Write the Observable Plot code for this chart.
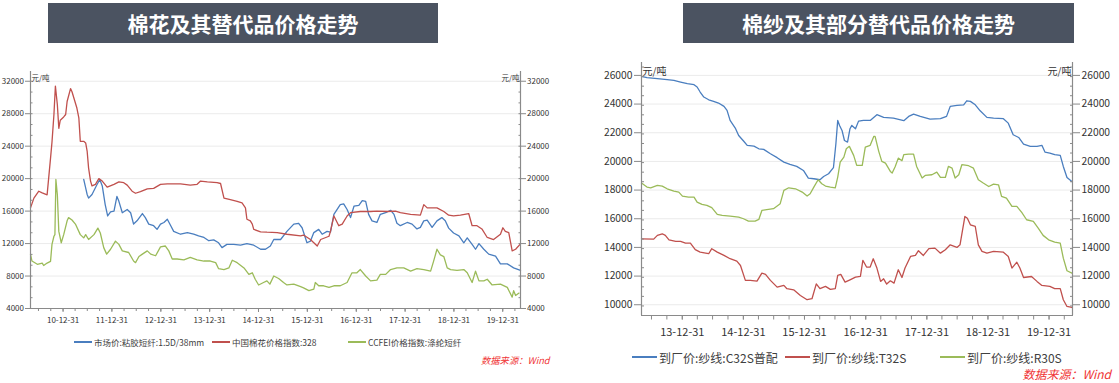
<!DOCTYPE html>
<html><head><meta charset="utf-8">
<script src="https://cdn.jsdelivr.net/npm/d3@7"></script>
<script src="https://cdn.jsdelivr.net/npm/@observablehq/plot@0.6"></script>
<style>
body{margin:0;background:#fff;}
#root{position:relative;width:1119px;height:383px;overflow:hidden;font-family:"Noto Sans CJK SC","Noto Sans",sans-serif;}
.banner{position:absolute;background:#4b5361;color:#fff;font-weight:bold;font-size:21px;display:flex;align-items:center;justify-content:center;letter-spacing:0px;}
.chart{position:absolute;}
.legend{position:absolute;color:#404040;white-space:nowrap;}
.legend .item{position:absolute;display:flex;align-items:center;}
.legend .sw{display:inline-block;height:1.6px;}
.caption{position:absolute;color:#f03535;font-style:italic;white-space:nowrap;line-height:1;padding-right:2px;}
</style></head>
<body><div id="root"></div>
<script>
// ---------- data ----------
const leftTitle = "棉花及其替代品价格走势";
const rightTitle = "棉纱及其部分替代品价格走势";
const leftNames = ["市场价:粘胶短纤:1.5D/38mm", "中国棉花价格指数:328", "CCFEI价格指数:涤纶短纤"];
const rightNames = ["到厂价:纱线:C32S普配", "到厂价:纱线:T32S", "到厂价:纱线:R30S"];
const unitLabel = "元/吨";
const sourceText = "数据来源：Wind";
const leftXTicks = ["10-12-31","11-12-31","12-12-31","13-12-31","14-12-31","15-12-31","16-12-31","17-12-31","18-12-31","19-12-31"];
const rightXTicks = ["13-12-31","14-12-31","15-12-31","16-12-31","17-12-31","18-12-31","19-12-31"];
const leftYTicks = [4000, 8000, 12000, 16000, 20000, 24000, 28000, 32000];
const rightYTicks = [10000, 12000, 14000, 16000, 18000, 20000, 22000, 24000, 26000];

// [decimal year, 元/吨]
const viscose = [[2011.42,19900],[2011.49,18050],[2011.52,17600],[2011.59,18050],[2011.69,19250],[2011.75,19900],[2011.80,19100],[2011.86,16800],[2011.91,15400],[2011.97,15900],[2012.04,16000],[2012.10,17800],[2012.14,17200],[2012.21,15800],[2012.31,16200],[2012.38,15800],[2012.44,14400],[2012.51,14800],[2012.62,15700],[2012.68,15200],[2012.75,14400],[2012.85,14200],[2012.92,13750],[2012.99,14400],[2013.06,14600],[2013.13,15000],[2013.20,14200],[2013.26,13500],[2013.40,13150],[2013.54,13350],[2013.67,13150],[2013.77,12950],[2013.88,12750],[2013.98,12350],[2014.08,12450],[2014.18,12100],[2014.25,11500],[2014.35,11900],[2014.49,11900],[2014.63,11800],[2014.76,12000],[2014.90,11800],[2015.04,11300],[2015.14,11300],[2015.24,11700],[2015.31,12500],[2015.45,12500],[2015.58,13500],[2015.72,14400],[2015.82,14500],[2015.89,13950],[2015.99,12100],[2016.06,12300],[2016.13,13350],[2016.23,13750],[2016.30,13150],[2016.40,13500],[2016.47,13400],[2016.54,15600],[2016.67,16800],[2016.74,16900],[2016.81,16200],[2016.88,15200],[2016.95,16600],[2017.05,16700],[2017.12,17300],[2017.19,17200],[2017.25,15600],[2017.32,14800],[2017.42,14600],[2017.49,15600],[2017.60,15800],[2017.70,16100],[2017.77,15600],[2017.83,14500],[2017.90,14200],[2018.04,14600],[2018.14,14400],[2018.24,13800],[2018.31,14000],[2018.38,14800],[2018.45,14900],[2018.55,14000],[2018.65,14800],[2018.75,15200],[2018.82,14800],[2018.89,13900],[2018.99,13300],[2019.10,12950],[2019.20,12100],[2019.27,12700],[2019.37,11900],[2019.44,11300],[2019.51,12000],[2019.61,11300],[2019.71,10700],[2019.85,10450],[2019.95,9500],[2020.09,9500],[2020.22,9000],[2020.36,8700]];
const cotton328 = [[2010.33,16400],[2010.40,17600],[2010.50,18450],[2010.57,18250],[2010.67,18000],[2010.74,22500],[2010.77,24500],[2010.81,27900],[2010.84,31400],[2010.88,29100],[2010.91,26200],[2010.94,27200],[2011.01,27600],[2011.05,27900],[2011.08,29500],[2011.15,31100],[2011.18,30700],[2011.22,29900],[2011.28,28700],[2011.32,27500],[2011.35,24600],[2011.42,24600],[2011.46,24400],[2011.49,23400],[2011.52,21300],[2011.56,19700],[2011.59,19100],[2011.66,19300],[2011.73,20000],[2011.80,19700],[2011.90,18950],[2012.04,19300],[2012.14,19600],[2012.24,19500],[2012.31,19200],[2012.41,18450],[2012.48,18200],[2012.58,18400],[2012.72,18750],[2012.85,18800],[2012.99,19300],[2013.13,19350],[2013.40,19350],[2013.60,19200],[2013.74,19300],[2013.81,19700],[2013.95,19600],[2014.15,19500],[2014.22,19400],[2014.29,17600],[2014.42,17400],[2014.56,17200],[2014.66,17000],[2014.73,16400],[2014.76,15000],[2014.83,14800],[2014.87,14400],[2014.90,13750],[2015.04,13450],[2015.17,13400],[2015.38,13350],[2015.58,13150],[2015.86,12950],[2015.92,13050],[2016.06,12500],[2016.20,11700],[2016.27,12500],[2016.44,12900],[2016.47,13500],[2016.54,15400],[2016.64,14200],[2016.71,14400],[2016.81,15400],[2016.88,15800],[2017.08,15950],[2017.29,15950],[2017.42,16000],[2017.63,15950],[2017.80,16000],[2017.90,15800],[2018.11,15600],[2018.31,15500],[2018.38,16800],[2018.45,16400],[2018.65,16400],[2018.79,15950],[2018.89,15500],[2018.99,15400],[2019.13,15500],[2019.30,15700],[2019.37,14200],[2019.47,14200],[2019.57,13800],[2019.68,12750],[2019.81,12500],[2019.95,13150],[2020.00,13950],[2020.05,13500],[2020.12,13350],[2020.19,11100],[2020.26,11300],[2020.35,11900]];
const polyester = [[2010.33,10700],[2010.36,9850],[2010.47,9450],[2010.57,9600],[2010.60,9300],[2010.67,9600],[2010.74,9800],[2010.77,11900],[2010.81,12900],[2010.83,13100],[2010.85,19900],[2010.88,18000],[2010.91,13500],[2010.96,12100],[2011.01,13100],[2011.08,14800],[2011.11,15200],[2011.18,14900],[2011.25,14400],[2011.35,13100],[2011.42,12700],[2011.46,13100],[2011.52,12500],[2011.63,13100],[2011.71,13900],[2011.76,13300],[2011.83,11500],[2011.89,10700],[2011.97,11300],[2012.07,12300],[2012.14,11900],[2012.21,11100],[2012.34,10900],[2012.44,9850],[2012.48,9650],[2012.55,10400],[2012.62,10700],[2012.72,11100],[2012.79,10700],[2012.89,10500],[2012.99,11600],[2013.09,11700],[2013.16,11100],[2013.23,10100],[2013.33,10100],[2013.47,10000],[2013.60,10300],[2013.74,10000],[2013.88,9850],[2014.01,9850],[2014.12,9650],[2014.18,8900],[2014.29,8800],[2014.39,9000],[2014.46,9950],[2014.56,9650],[2014.70,9000],[2014.80,8200],[2014.87,8400],[2014.93,7600],[2015.00,6900],[2015.10,7200],[2015.17,7400],[2015.23,7000],[2015.31,8000],[2015.41,7700],[2015.51,7200],[2015.58,6900],[2015.72,7000],[2015.86,6700],[2015.92,6550],[2016.03,6200],[2016.13,6400],[2016.16,7200],[2016.23,6800],[2016.33,6800],[2016.44,6600],[2016.54,6800],[2016.67,6800],[2016.81,7200],[2016.91,8400],[2017.01,8400],[2017.08,8800],[2017.19,8000],[2017.29,7400],[2017.42,7500],[2017.49,8200],[2017.60,8200],[2017.70,8800],[2017.83,9000],[2017.97,9000],[2018.11,8600],[2018.24,8900],[2018.38,8800],[2018.52,8600],[2018.58,9800],[2018.65,11300],[2018.72,10600],[2018.79,10400],[2018.86,9000],[2018.93,8800],[2019.06,8700],[2019.20,8800],[2019.27,8400],[2019.37,7200],[2019.44,8600],[2019.51,7400],[2019.61,7400],[2019.68,7600],[2019.78,6900],[2019.95,7000],[2020.09,6600],[2020.19,5400],[2020.22,6200],[2020.26,5600],[2020.33,5900]];

const yarnC32S = [[2013.33,25930],[2013.42,25840],[2013.59,25770],[2013.75,25700],[2013.86,25650],[2013.97,25530],[2014.08,25420],[2014.19,25350],[2014.24,25190],[2014.29,24840],[2014.35,24490],[2014.43,24300],[2014.51,24190],[2014.59,24070],[2014.68,23840],[2014.73,23560],[2014.78,22860],[2014.87,22280],[2014.92,21810],[2015.00,21420],[2015.06,21120],[2015.17,21070],[2015.25,20880],[2015.33,20840],[2015.44,20530],[2015.55,20260],[2015.66,19950],[2015.76,19790],[2015.87,19650],[2015.98,19370],[2016.06,18840],[2016.15,18790],[2016.25,18720],[2016.31,18950],[2016.39,19140],[2016.47,19560],[2016.51,21230],[2016.54,22860],[2016.57,22510],[2016.61,22160],[2016.65,21460],[2016.70,21350],[2016.74,22280],[2016.77,22510],[2016.83,22280],[2016.88,22810],[2016.96,22860],[2017.07,22860],[2017.18,23260],[2017.29,23070],[2017.45,23020],[2017.62,22840],[2017.70,23140],[2017.78,23300],[2017.89,23140],[2018.05,22950],[2018.22,22980],[2018.32,23140],[2018.38,23840],[2018.49,23910],[2018.60,23950],[2018.65,24230],[2018.71,24190],[2018.79,23950],[2018.87,23530],[2018.98,23070],[2019.09,23020],[2019.25,22980],[2019.33,22670],[2019.41,21860],[2019.50,21670],[2019.58,21210],[2019.69,21050],[2019.80,21050],[2019.88,21120],[2019.93,20650],[2020.01,20580],[2020.09,20470],[2020.18,20420],[2020.23,19650],[2020.29,18880],[2020.37,18600]];
const yarnT32S = [[2013.33,14600],[2013.53,14580],[2013.59,14840],[2013.67,14950],[2013.72,14840],[2013.78,14530],[2013.89,14420],[2013.97,14420],[2014.05,14300],[2014.13,14300],[2014.21,13840],[2014.29,13670],[2014.38,13600],[2014.43,13560],[2014.48,13910],[2014.57,13670],[2014.68,13440],[2014.78,13210],[2014.89,13040],[2014.95,12740],[2015.03,11700],[2015.11,11700],[2015.22,11650],[2015.30,12210],[2015.36,12120],[2015.44,11700],[2015.55,11230],[2015.66,11350],[2015.71,11120],[2015.82,11040],[2015.93,10650],[2016.04,10350],[2016.12,10420],[2016.19,11460],[2016.25,11120],[2016.34,11280],[2016.42,11070],[2016.50,11120],[2016.54,12050],[2016.59,12120],[2016.66,11580],[2016.74,11740],[2016.83,11930],[2016.91,11980],[2016.95,13100],[2017.01,12630],[2017.07,12630],[2017.12,13210],[2017.18,12560],[2017.24,11630],[2017.29,11810],[2017.34,11440],[2017.40,11670],[2017.46,11510],[2017.53,12440],[2017.59,11900],[2017.64,12560],[2017.73,13370],[2017.81,13440],[2017.86,13770],[2017.94,13440],[2018.03,13910],[2018.13,13950],[2018.22,13600],[2018.30,13840],[2018.38,14180],[2018.49,14000],[2018.54,14180],[2018.62,16160],[2018.66,16040],[2018.71,15580],[2018.79,15460],[2018.84,14180],[2018.90,13720],[2018.98,13600],[2019.09,13720],[2019.25,13670],[2019.33,13370],[2019.39,12560],[2019.47,12970],[2019.52,12560],[2019.58,11900],[2019.71,11970],[2019.80,11630],[2019.88,11350],[2020.01,11280],[2020.09,11120],[2020.18,11120],[2020.23,10350],[2020.29,9880],[2020.37,9810]];
const yarnR30S = [[2013.33,18490],[2013.42,18210],[2013.48,18160],[2013.59,18330],[2013.67,18280],[2013.75,18090],[2013.86,17930],[2013.94,17860],[2014.00,17580],[2014.10,17510],[2014.19,17510],[2014.24,17160],[2014.32,17000],[2014.40,16930],[2014.48,16770],[2014.57,16300],[2014.65,16230],[2014.78,16180],[2014.92,16110],[2015.00,16000],[2015.08,15840],[2015.19,15840],[2015.25,15950],[2015.30,16580],[2015.38,16630],[2015.49,16700],[2015.60,17050],[2015.66,17980],[2015.74,18160],[2015.85,18090],[2015.96,17860],[2016.04,17580],[2016.09,17740],[2016.15,18210],[2016.22,18720],[2016.28,18440],[2016.34,18280],[2016.42,18210],[2016.50,18160],[2016.54,18910],[2016.58,19950],[2016.64,20300],[2016.68,20880],[2016.73,21050],[2016.80,20420],[2016.85,19720],[2016.94,19720],[2016.99,21000],[2017.07,21120],[2017.13,21750],[2017.15,21750],[2017.21,20700],[2017.26,20000],[2017.32,19880],[2017.40,19300],[2017.43,19190],[2017.48,19650],[2017.53,20230],[2017.59,20050],[2017.62,20470],[2017.70,20510],[2017.78,20510],[2017.83,19650],[2017.92,18840],[2017.97,19020],[2018.08,19070],[2018.16,19250],[2018.22,18880],[2018.30,18880],[2018.35,19650],[2018.41,19530],[2018.46,18840],[2018.52,19070],[2018.57,19770],[2018.68,19700],[2018.76,19530],[2018.84,18720],[2018.92,18490],[2019.01,18250],[2019.09,18420],[2019.17,18370],[2019.22,17560],[2019.30,17440],[2019.39,16860],[2019.47,16860],[2019.55,16440],[2019.63,15930],[2019.74,15810],[2019.82,15350],[2019.90,14840],[2019.99,14530],[2020.09,14370],[2020.18,14300],[2020.23,13250],[2020.29,12370],[2020.37,12210]];

const colors = ["#4a7ebf", "#c0504d", "#9bbb59"];

// ---------- helpers ----------
function toDate(t) {
  const y = Math.floor(t), s = Date.UTC(y, 0, 1), e = Date.UTC(y + 1, 0, 1);
  return new Date(s + (t - y) * (e - s));
}
const parseTick = d3.utcParse("%y-%m-%d");
const fmtTick = d3.utcFormat("%y-%m-%d");
function quarterEnds(d0, d1) {
  return d3.utcMonth.every(3).range(d0, d1).map(d => d3.utcDay.offset(d, -1)).filter(d => d >= d0 && d <= d1);
}
function minorY(lo, hi, step) {
  const out = [];
  for (let v = lo; v <= hi + 1e-6; v += step / 3) out.push(v);
  return out;
}

function makeChart(cfg) {
  const x0 = toDate(cfg.xDomain[0]), x1 = toDate(cfg.xDomain[1]);
  const majors = cfg.xTicks.map(parseTick);
  const minors = quarterEnds(x0, x1);
  const yMinor = minorY(cfg.yDomain[0], cfg.yDomain[1], cfg.yStep);
  const axisColor = "#8a8a8a";
  const lines = cfg.series.map((s, i) =>
    Plot.lineY(s, {x: d => toDate(d[0]), y: d => d[1], stroke: colors[i], strokeWidth: 1.3}));
  return Plot.plot({
    width: cfg.width, height: cfg.height,
    marginLeft: cfg.ml, marginRight: cfg.mr, marginTop: cfg.mt, marginBottom: cfg.mb,
    x: {type: "utc", domain: [x0, x1]},
    y: {domain: cfg.yDomain},
    style: {fontFamily: '"Noto Sans CJK SC","Noto Sans",sans-serif', fontSize: cfg.fs + "px", color: "#333", background: "transparent", overflow: "visible"},
    marks: [
      Plot.gridY(cfg.yTicks, {stroke: "#ebebeb", strokeOpacity: 1}),
      ...lines,
      Plot.ruleX([x0], {stroke: axisColor, strokeWidth: 1.2}),
      Plot.ruleX([x1], {stroke: axisColor, strokeWidth: 1.2}),
      Plot.ruleY([cfg.yDomain[0]], {stroke: axisColor, strokeWidth: 1.2}),
      Plot.axisY(cfg.yTicks, {anchor: "left", tickSize: cfg.yTick, tickPadding: cfg.yPad, stroke: axisColor, fill: "#333", label: null, tickFormat: d => String(d)}),
      Plot.axisY(cfg.yTicks, {anchor: "right", tickSize: cfg.yTick, tickPadding: cfg.yPad, stroke: axisColor, fill: "#333", label: null, tickFormat: d => String(d)}),
      Plot.axisY(yMinor, {anchor: "left", tickSize: -cfg.minorTick, stroke: axisColor, label: null, tickFormat: () => ""}),
      Plot.axisY(yMinor, {anchor: "right", tickSize: -cfg.minorTick, stroke: axisColor, label: null, tickFormat: () => ""}),
      Plot.axisX(minors, {anchor: "bottom", tickSize: cfg.xMinorTick, stroke: axisColor, label: null, tickFormat: () => ""}),
      Plot.axisX(majors, {anchor: "bottom", tickSize: cfg.xTick, tickPadding: cfg.xPad, stroke: axisColor, fill: "#333", label: null, tickFormat: fmtTick, fontSize: cfg.xfs}),
      Plot.text([unitLabel], {frameAnchor: "top-left", textAnchor: "start", dx: 1, dy: cfg.unitDy, fontSize: cfg.ufs, fill: "#333"}),
      Plot.text([unitLabel], {frameAnchor: "top-right", textAnchor: "end", dx: -1, dy: cfg.unitDy, fontSize: cfg.ufs, fill: "#333"})
    ]
  });
}

const root = document.getElementById("root");
function addDiv(cls, style, html) {
  const d = document.createElement("div");
  d.className = cls;
  Object.assign(d.style, style);
  if (html !== undefined) d.textContent = html;
  root.appendChild(d);
  return d;
}

// banners
addDiv("banner", {left: "48px", top: "3px", width: "390px", height: "40px"}, leftTitle);
addDiv("banner", {left: "683px", top: "3px", width: "391px", height: "40px"}, rightTitle);

// left chart
const leftSvg = makeChart({
  width: 555, height: 290, ml: 30, mr: 35, mt: 31, mb: 22,
  xDomain: [2010.33, 2020.36], yDomain: [4000, 33200], yStep: 4000,
  xTicks: leftXTicks, yTicks: leftYTicks, series: [viscose, cotton328, polyester],
  fs: 8, xfs: 8, ufs: 7.5, yTick: 5, yPad: 1.5, minorTick: 2.5, xTick: 4, xMinorTick: 3, xPad: 5, unitDy: 4
});
const lc = addDiv("chart", {left: "0px", top: "40px"});
lc.appendChild(leftSvg);

// right chart
const rightSvg = makeChart({
  width: 525, height: 295, ml: 51, mr: 43, mt: 17, mb: 25,
  xDomain: [2013.33, 2020.38], yDomain: [9250, 26900], yStep: 2000,
  xTicks: rightXTicks, yTicks: rightYTicks, series: [yarnC32S, yarnT32S, yarnR30S],
  fs: 10.3, xfs: 11, ufs: 10, yTick: 7, yPad: 2, minorTick: 3, xTick: 4.5, xMinorTick: 4.5, xPad: 8, unitDy: 5
});
const rc = addDiv("chart", {left: "590px", top: "45px"});
rc.appendChild(rightSvg);

// legends
function legend(items, y, fs, swW) {
  const lg = addDiv("legend", {left: "0px", top: "0px", fontSize: fs + "px"});
  items.forEach(([name, x, color]) => {
    const it = document.createElement("div");
    it.className = "item";
    Object.assign(it.style, {left: x + "px", top: (y - fs * 0.75) + "px", height: (fs * 1.5) + "px"});
    const sw = document.createElement("span");
    sw.className = "sw";
    Object.assign(sw.style, {width: swW + "px", background: color, marginRight: "2px"});
    const tx = document.createElement("span");
    tx.textContent = name;
    it.appendChild(sw); it.appendChild(tx);
    lg.appendChild(it);
  });
}
legend([[leftNames[0], 74, colors[0]], [leftNames[1], 212, colors[1]], [leftNames[2], 348, colors[2]]], 342, 8.5, 18);
legend([[rightNames[0], 632, colors[0]], [rightNames[1], 785, colors[1]], [rightNames[2], 940, colors[2]]], 357, 12, 25);

// captions
addDiv("caption", {left: "481px", top: "356px", fontSize: "9.3px"}, sourceText);
addDiv("caption", {right: "6px", top: "368px", fontSize: "12px"}, sourceText);
</script>
</body></html>
